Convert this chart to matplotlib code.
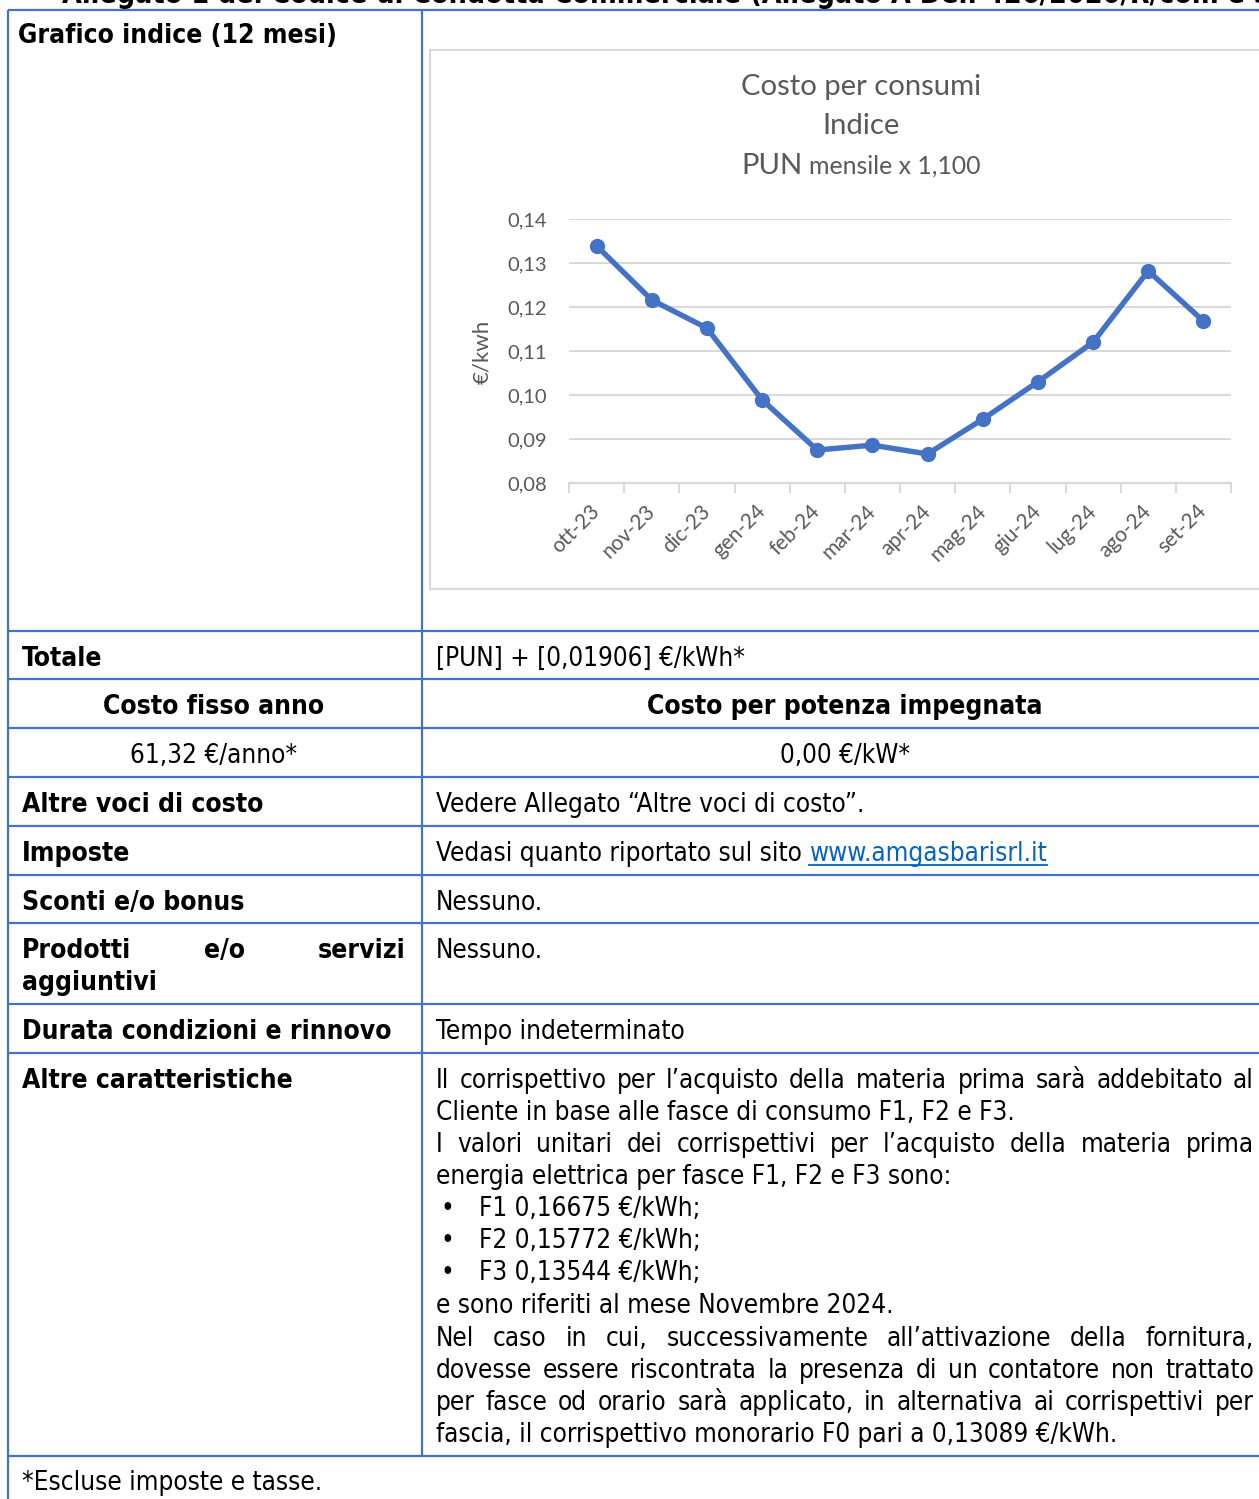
import matplotlib
matplotlib.use("Agg")
import matplotlib.pyplot as plt
from matplotlib import font_manager
from matplotlib.patches import Rectangle

# chart data
months = ["ott-23", "nov-23", "dic-23", "gen-24", "feb-24", "mar-24",
          "apr-24", "mag-24", "giu-24", "lug-24", "ago-24", "set-24"]
pun_index = [0.1339, 0.1216, 0.1152, 0.0989, 0.0875, 0.0886,
             0.0866, 0.0945, 0.1030, 0.1120, 0.1282, 0.1168]
y_ticks = [0.08, 0.09, 0.10, 0.11, 0.12, 0.13, 0.14]
y_tick_labels = ["0,08", "0,09", "0,10", "0,11", "0,12", "0,13", "0,14"]

BLUE = "#4472C4"
GREY = "#595959"
GRID = "#D9D9D9"
LINK = "#0563C1"
W, H = 1259, 1499

fig = plt.figure(figsize=(W / 100, H / 100), dpi=100)
doc = fig.add_axes([0, 0, 1, 1])
doc.set_xlim(0, W)
doc.set_ylim(H, 0)
doc.axis("off")
renderer = fig.canvas.get_renderer()


def body_font():
    fl = font_manager.fontManager.ttflist
    for f in fl:
        if f.name == "DejaVu Sans Condensed":
            return {"family": "DejaVu Sans Condensed"}
    for f in fl:
        if f.name == "DejaVu Sans" and f.stretch == "condensed":
            return {"family": "DejaVu Sans", "fontstretch": "condensed"}
    return {"family": "DejaVu Sans"}


def width(s, **kw):
    t = doc.text(0, 0, s, **kw)
    w = t.get_window_extent(renderer).width
    t.remove()
    return w


BODY = body_font()
REG = dict(BODY)
REG["fontsize"] = 10 * 580 / width("Cliente in base alle fasce di consumo F1, F2 e F3.",
                                   fontsize=10, **BODY)
BOLD = dict(BODY, fontweight="bold")
BOLD["fontsize"] = 10 * 368 / width("Durata condizioni e rinnovo", fontsize=10,
                                    fontweight="bold", **BODY)
HEAD = dict(BOLD, fontsize=BOLD["fontsize"] * 1.08)


def put(x, y, s, style, ha="left", **kw):
    doc.text(x, y, s, ha=ha, va="baseline", color="black", **style, **kw)


def justify(s, x0, x1, y, style):
    words = s.split()
    ws = [width(w, **style) for w in words]
    gap = (x1 - x0 - sum(ws)) / (len(words) - 1)
    x = x0
    for w, wd in zip(words, ws):
        put(x, y, w, style)
        x += wd + gap


# page header, cut at the top like the scan
put(62, 3, "Allegato 1 del Codice di Condotta Commerciale (Allegato A Del. 426/2020/R/com e smi)", HEAD)

# table grid
lw = 1.6
doc.hlines([10, 631, 679, 728, 777, 826, 875, 923, 1004, 1053, 1456], 8, W, color=BLUE, lw=lw)
doc.vlines(8, 10, H, color=BLUE, lw=lw)
doc.vlines(422, 10, 1456, color=BLUE, lw=lw)

# left column
put(18, 43, "Grafico indice (12 mesi)", BOLD)
put(22, 666, "Totale", BOLD)
put(214, 714, "Costo fisso anno", BOLD, ha="center")
put(214, 763, "61,32 €/anno*", REG, ha="center")
put(22, 812, "Altre voci di costo", BOLD)
put(22, 861, "Imposte", BOLD)
put(22, 910, "Sconti e/o bonus", BOLD)
justify("Prodotti e/o servizi", 22, 406, 958, BOLD)
put(22, 990, "aggiuntivi", BOLD)
put(22, 1039, "Durata condizioni e rinnovo", BOLD)
put(22, 1088, "Altre caratteristiche", BOLD)
put(22, 1490, "*Escluse imposte e tasse.", REG)

# right column
put(436, 666, "[PUN] + [0,01906] €/kWh*", REG)
put(845, 714, "Costo per potenza impegnata", BOLD, ha="center")
put(845, 763, "0,00 €/kW*", REG, ha="center")
put(436, 812, "Vedere Allegato “Altre voci di costo”.", REG)
prefix = "Vedasi quanto riportato sul sito"
put(436, 861, prefix, REG)
space = width("a a", **REG) - width("aa", **REG)
xl = 436 + width(prefix, **REG) + space
doc.text(xl, 861, "www.amgasbarisrl.it", ha="left", va="baseline", color=LINK, **REG)
wl = width("www.amgasbarisrl.it", **REG)
doc.plot([xl, xl + wl], [865, 865], color=LINK, lw=1.3)
put(436, 910, "Nessuno.", REG)
put(436, 958, "Nessuno.", REG)
put(436, 1039, "Tempo indeterminato", REG)

lines = [
    ("Il corrispettivo per l’acquisto della materia prima sarà addebitato al", 1088, True),
    ("Cliente in base alle fasce di consumo F1, F2 e F3.", 1120, False),
    ("I valori unitari dei corrispettivi per l’acquisto della materia prima", 1152, True),
    ("energia elettrica per fasce F1, F2 e F3 sono:", 1184, False),
    ("e sono riferiti al mese Novembre 2024.", 1313, False),
    ("Nel caso in cui, successivamente all’attivazione della fornitura,", 1346, True),
    ("dovesse essere riscontrata la presenza di un contatore non trattato", 1378, True),
    ("per fasce od orario sarà applicato, in alternativa ai corrispettivi per", 1410, True),
    ("fascia, il corrispettivo monorario F0 pari a 0,13089 €/kWh.", 1442, False),
]
for s, y, just in lines:
    if just:
        justify(s, 436, 1254, y, REG)
    else:
        put(436, y, s, REG)
for s, y in [("F1 0,16675 €/kWh;", 1216), ("F2 0,15772 €/kWh;", 1248), ("F3 0,13544 €/kWh;", 1280)]:
    put(447, y, "•", REG, ha="center")
    put(479, y, s, REG)

# chart frame and titles
doc.add_patch(Rectangle((430, 50), 900, 539, facecolor="white", edgecolor=GRID, lw=1.5, zorder=0))
CH = {"family": "Lato", "color": GREY}
tsize = 10 * 241 / width("Costo per consumi", fontsize=10, family="Lato")
doc.text(861, 95, "Costo per consumi", ha="center", va="baseline", fontsize=tsize, **CH)
doc.text(861, 134, "Indice", ha="center", va="baseline", fontsize=tsize, **CH)
w1 = width("PUN", fontsize=tsize, family="Lato")
s2 = tsize * 0.85
w2 = width("mensile x 1,100", fontsize=s2, family="Lato")
gap = width("a a", fontsize=s2, family="Lato") - width("aa", fontsize=s2, family="Lato")
x0 = 861 - (w1 + gap + w2) / 2
doc.text(x0, 174, "PUN", ha="left", va="baseline", fontsize=tsize, **CH)
doc.text(x0 + w1 + gap, 174, "mensile x 1,100", ha="left", va="baseline", fontsize=s2, **CH)

# the chart itself
ax = fig.add_axes([569 / W, 1 - 483 / H, (1231 - 569) / W, (483 - 219) / H])
ax.set_facecolor("none")
xs = list(range(len(months)))
ax.plot(xs, pun_index, color=BLUE, lw=3.9, marker="o", ms=10, zorder=3, clip_on=False)
ax.set_xlim(-0.5, len(months) - 0.5)
ax.set_ylim(y_ticks[0], y_ticks[-1])
ax.set_yticks(y_ticks, y_tick_labels)
ax.set_xticks(xs, months)
ax.set_xticks([i - 0.5 for i in range(len(months) + 1)], minor=True)
ax.tick_params(axis="x", which="major", length=0, pad=18)
ax.tick_params(axis="x", which="minor", length=7, color=GRID, width=1.5, direction="out")
ax.tick_params(axis="y", length=0, pad=16)
for lab in ax.get_yticklabels():
    lab.set_fontfamily("Lato")
    lab.set_fontsize(14.5)
    lab.set_color(GREY)
for lab in ax.get_xticklabels():
    lab.set_fontfamily("Lato")
    lab.set_fontsize(15)
    lab.set_color(GREY)
    lab.set_rotation(45)
    lab.set_ha("right")
    lab.set_va("center")
    lab.set_rotation_mode("anchor")
for sp in ["top", "right", "left"]:
    ax.spines[sp].set_visible(False)
ax.spines["bottom"].set_color(GRID)
ax.spines["bottom"].set_linewidth(1.5)
ax.grid(axis="y", color=GRID, lw=1.5)
ax.set_axisbelow(True)
ax.text((482 - 569) / 662, (483 - 352) / 264, "€/kwh", transform=ax.transAxes,
        rotation=90, ha="center", va="center", rotation_mode="anchor",
        fontsize=16, family="Lato", color=GREY)

fig.savefig("out.png", dpi=100)
